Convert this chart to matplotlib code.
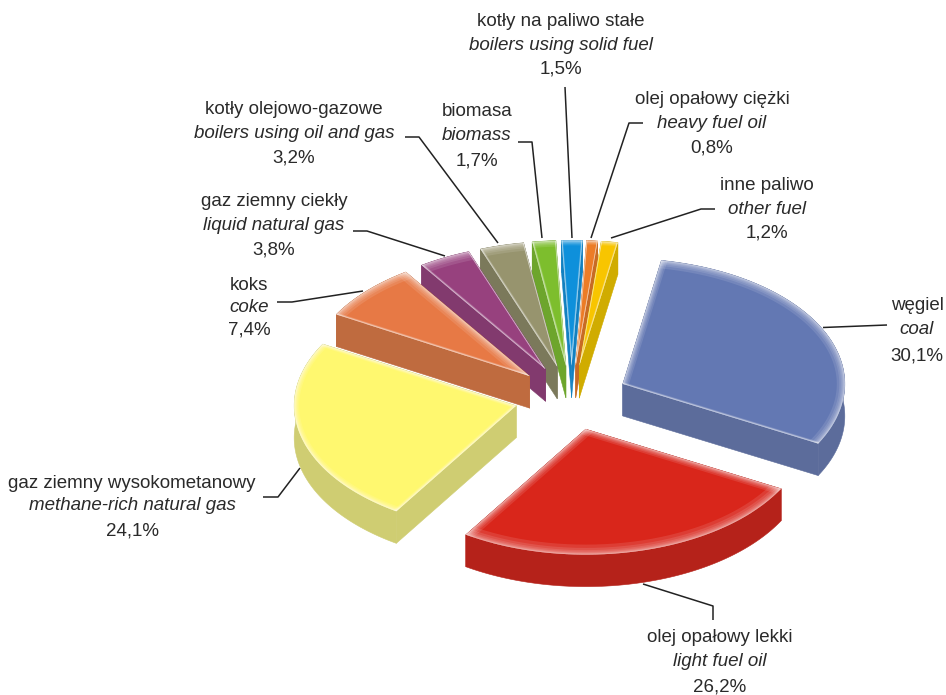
import numpy as np
import matplotlib
matplotlib.use('Agg')
import matplotlib.pyplot as plt
from matplotlib.patches import Polygon

plt.rcParams['font.family'] = ['Liberation Sans', 'DejaVu Sans']

names_pl = ['węgiel', 'olej opałowy lekki', 'gaz ziemny wysokometanowy', 'koks',
            'gaz ziemny ciekły', 'kotły olejowo-gazowe', 'biomasa',
            'kotły na paliwo stałe', 'olej opałowy ciężki', 'inne paliwo']
names_en = ['coal', 'light fuel oil', 'methane-rich natural gas', 'coke',
            'liquid natural gas', 'boilers using oil and gas', 'biomass',
            'boilers using solid fuel', 'heavy fuel oil', 'other fuel']
shares = [30.1, 26.2, 24.1, 7.4, 3.8, 3.2, 1.7, 1.5, 0.8, 1.2]

top_colors = ['#6378b3', '#d9261b', '#fff86f', '#e77945', '#97417e',
              '#97946e', '#7dbe2d', '#0e90db', '#ec7c26', '#f8c500']
side_colors = ['#5c6c9b', '#b5221a', '#cfcd72', '#bf6b3f', '#823a6e',
               '#7b795b', '#6da52c', '#1280c0', '#c86a25', '#d0ac00']
# width in px of the pale rim: outer arc, first radial edge, second radial edge
glow_arc = [8, 10, 5, 8, 9, 8, 6, 5, 4, 4]
glow_first = [6, 6, 3, 2, 2, 2, 2, 1.5, 1, 1]
glow_second = [2, 7, 3, 8, 1, 1, 1, 1.5, 1, 1.5]

# label centre x and y of the three lines
label_pos = [(917, (306, 330, 356)), (720, (638, 662, 687)), (132, (483, 506, 531)),
             (249, (286, 308, 330)), (274, (202, 226, 250)), (294, (110, 133, 158)),
             (477, (112, 136, 161)), (561, (21, 45, 69)), (712, (100, 124, 148)),
             (767, (185, 209, 233))]
leaders = [[(823, 327.5), (887, 325)],
           [(643, 584), (713, 606), (713, 620)],
           [(263, 497), (278, 497), (300, 468)],
           [(277, 302), (292, 302), (363, 291)],
           [(353, 231), (367, 231), (445, 256)],
           [(405, 137), (419, 137), (498, 243)],
           [(518, 142), (532, 142), (542, 238)],
           [(565, 87), (572, 238)],
           [(643, 123), (629, 123), (591, 238)],
           [(715, 209), (701, 209), (611, 238)]]

cx, cy = 571.5, 398
radius, squash = 222, 0.565
explode, depth = 57, 32
start = 10


def wedge(a0, a1):
    ang = np.radians(np.linspace(a0, a1, max(int(a1 - a0) * 2, 8)))
    mid = np.radians((a0 + a1) / 2)
    ox = cx + explode * np.sin(mid)
    oy = cy - explode * squash * np.cos(mid)
    xs = ox + radius * np.sin(ang)
    ys = oy - radius * squash * np.cos(ang)
    return np.array([ox, oy]), np.column_stack([xs, ys])


def soft_line(pts, width, clip, z):
    for w in np.geomspace(width, 0.6, 8):
        ln, = ax.plot(pts[:, 0], pts[:, 1], color='white', lw=w * 1.44, alpha=0.11,
                      solid_capstyle='projecting', zorder=z)
        ln.set_clip_path(clip)


fig = plt.figure(figsize=(9.46, 6.95), dpi=100)
ax = fig.add_axes([0, 0, 1, 1])
ax.set_xlim(0, 946)
ax.set_ylim(695, 0)
ax.axis('off')

edges = start + np.cumsum([0] + shares) * 3.6
# back slices first, the ones nearest the viewer last
mids = (edges[:-1] + edges[1:]) / 2
order = np.argsort(-np.cos(np.radians(mids)))

for n, i in enumerate(order):
    z = n * 3 + 1
    apex, arc = wedge(edges[i], edges[i + 1])
    drop = np.array([0, depth])
    sides = [np.vstack([arc, (arc + drop)[::-1]]),
             np.array([apex, arc[0], arc[0] + drop, apex + drop]),
             np.array([apex, arc[-1], arc[-1] + drop, apex + drop])]
    for s in sides:
        ax.add_patch(Polygon(s, closed=True, fc=side_colors[i], ec=side_colors[i], lw=0.4, zorder=z))
    face = Polygon(np.vstack([apex, arc]), closed=True, fc=top_colors[i], ec='none', zorder=z + 1)
    ax.add_patch(face)
    soft_line(arc, glow_arc[i], face, z + 2)
    soft_line(np.array([apex, arc[0]]), glow_first[i], face, z + 2)
    soft_line(np.array([apex, arc[-1]]), glow_second[i], face, z + 2)

for line in leaders:
    xs, ys = zip(*line)
    ax.plot(xs, ys, color='#222222', lw=1.1, zorder=100, solid_capstyle='butt')

for i in range(len(shares)):
    x, ys = label_pos[i]
    pct = f'{shares[i]:.1f}%'.replace('.', ',')
    ax.text(x, ys[0], names_pl[i], ha='center', va='center', fontsize=13.5, color='#2a2a2a')
    ax.text(x, ys[1], names_en[i], ha='center', va='center', fontsize=13.5, style='italic', color='#2a2a2a')
    ax.text(x, ys[2], pct, ha='center', va='center', fontsize=13.5, color='#2a2a2a')

fig.savefig('out.png', dpi=100, facecolor='white')
